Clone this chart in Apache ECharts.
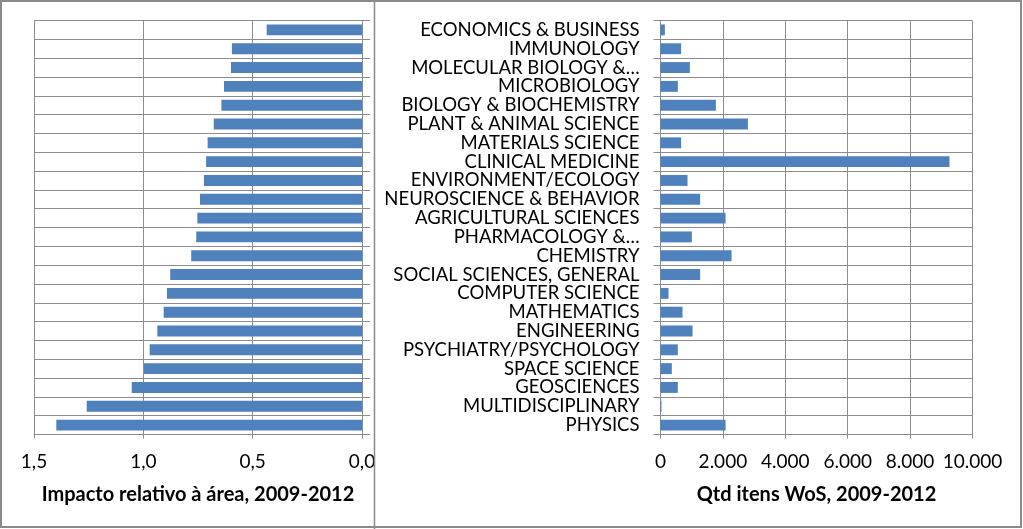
<!DOCTYPE html>
<html>
<head>
<meta charset="utf-8">
<script src="https://cdn.jsdelivr.net/npm/echarts@6/dist/echarts.min.js"></script>
<style>
html,body{margin:0;padding:0;background:#fff;}
#c{width:1023px;height:529px;}
</style>
</head>
<body>
<div id="c"></div>
<script>
const categories = [
  "ECONOMICS & BUSINESS",
  "IMMUNOLOGY",
  "MOLECULAR BIOLOGY &…",
  "MICROBIOLOGY",
  "BIOLOGY & BIOCHEMISTRY",
  "PLANT & ANIMAL SCIENCE",
  "MATERIALS SCIENCE",
  "CLINICAL MEDICINE",
  "ENVIRONMENT/ECOLOGY",
  "NEUROSCIENCE & BEHAVIOR",
  "AGRICULTURAL SCIENCES",
  "PHARMACOLOGY &…",
  "CHEMISTRY",
  "SOCIAL SCIENCES, GENERAL",
  "COMPUTER SCIENCE",
  "MATHEMATICS",
  "ENGINEERING",
  "PSYCHIATRY/PSYCHOLOGY",
  "SPACE SCIENCE",
  "GEOSCIENCES",
  "MULTIDISCIPLINARY",
  "PHYSICS"
];
const impactValues = [0.436, 0.595, 0.599, 0.631, 0.643, 0.678, 0.706, 0.713, 0.723, 0.741, 0.753, 0.758, 0.781, 0.877, 0.892, 0.907, 0.936, 0.971, 0.997, 1.053, 1.259, 1.398];
const itemValues = [140, 662, 940, 556, 1775, 2802, 662, 9262, 866, 1271, 2086, 1005, 2278, 1271, 257, 706, 1027, 555, 363, 555, 32, 2086];
const leftAxisName = "Impacto relativo à área, 2009-2012";
const rightAxisName = "Qtd itens WoS, 2009-2012";

const GRID = '#8c8c8c';
const BAR = '#4F81BD';
const FONT = 'Lato';

const chart = echarts.init(document.getElementById('c'), null, {renderer: 'canvas'});
chart.setOption({
  animation: false,
  backgroundColor: '#fff',
  textStyle: {fontFamily: FONT},
  grid: [
    {left: 34, right: 661, top: 20.5, bottom: 94.5, containLabel: false},
    {left: 660.5, right: 50.5, top: 20.5, bottom: 94.5, containLabel: false}
  ],
  xAxis: [
    {
      gridIndex: 0, type: 'value', inverse: true, min: 0, max: 1.5, interval: 0.5,
      axisLine: {show: true, lineStyle: {color: GRID}},
      axisTick: {show: true, length: 4, lineStyle: {color: GRID}},
      splitLine: {show: true, lineStyle: {color: GRID}},
      axisLabel: {color: '#000', fontSize: 19, fontFamily: FONT, margin: 18,
        formatter: v => v.toFixed(1).replace('.', ',')},
      name: leftAxisName, nameLocation: 'middle', nameGap: 50,
      nameTextStyle: {color: '#000', fontSize: 20, fontWeight: 'bold', fontFamily: FONT}
    },
    {
      gridIndex: 1, type: 'value', min: 0, max: 10000, interval: 2000,
      axisLine: {show: true, lineStyle: {color: GRID}},
      axisTick: {show: true, length: 4, lineStyle: {color: GRID}},
      splitLine: {show: true, lineStyle: {color: GRID}},
      axisLabel: {color: '#000', fontSize: 19, fontFamily: FONT, margin: 18,
        formatter: v => String(v).replace(/\B(?=(\d{3})+(?!\d))/g, '.')},
      name: rightAxisName, nameLocation: 'middle', nameGap: 50,
      nameTextStyle: {color: '#000', fontSize: 20, fontWeight: 'bold', fontFamily: FONT}
    }
  ],
  yAxis: [
    {
      gridIndex: 0, type: 'category', data: categories, inverse: true, position: 'right',
      axisLine: {show: true, onZero: false, lineStyle: {color: GRID}},
      axisTick: {show: true, length: 8, lineStyle: {color: GRID}},
      axisLabel: {show: false},
      splitLine: {show: true, lineStyle: {color: GRID}}
    },
    {
      gridIndex: 1, type: 'category', data: categories, inverse: true, position: 'left',
      axisLine: {show: true, onZero: false, lineStyle: {color: GRID}},
      axisTick: {show: true, length: 7, lineStyle: {color: GRID}},
      axisLabel: {show: true, color: '#000', fontSize: 18.5, fontFamily: FONT, margin: 21, interval: 0},
      splitLine: {show: true, lineStyle: {color: GRID}}
    }
  ],
  series: [
    {type: 'bar', xAxisIndex: 0, yAxisIndex: 0, data: impactValues,
     barCategoryGap: '42%', itemStyle: {color: BAR}},
    {type: 'bar', xAxisIndex: 1, yAxisIndex: 1, data: itemValues,
     barCategoryGap: '42%', itemStyle: {color: BAR}}
  ],
  graphic: [
    {type: 'rect', silent: true, z: 100,
     shape: {x: 1, y: 1, width: 1020, height: 526},
     style: {fill: 'none', stroke: '#8a8a8a', lineWidth: 2}},
    {type: 'line', silent: true, z: 100,
     shape: {x1: 374.5, y1: 0, x2: 374.5, y2: 529},
     style: {stroke: '#8a8a8a', lineWidth: 1.5}}
  ]
});
</script>
</body>
</html>
